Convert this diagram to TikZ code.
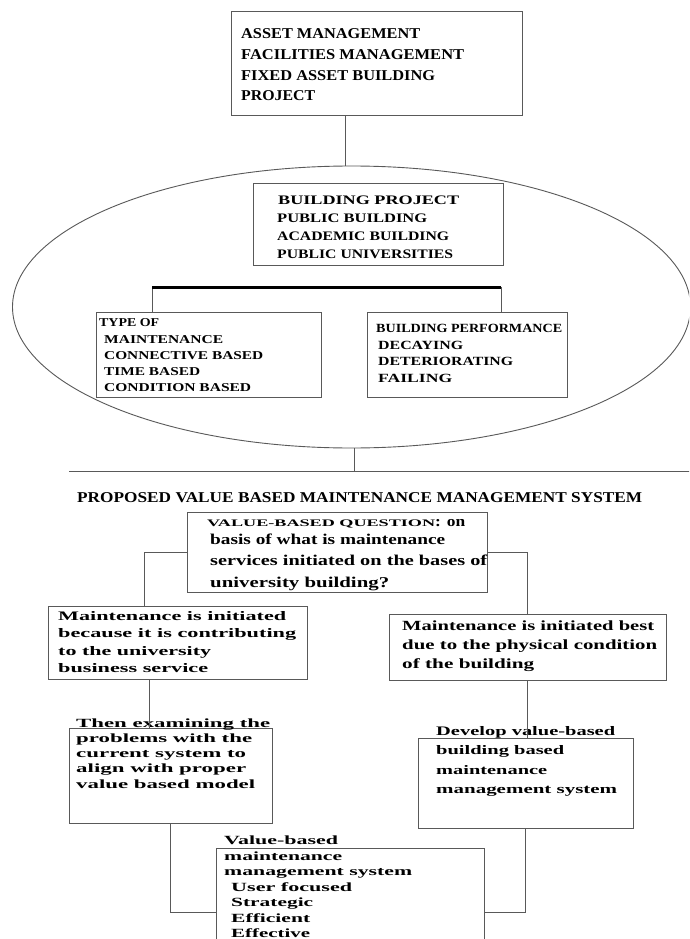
\documentclass[tikz,border=0pt]{standalone}
\usepackage{fontspec}
\setmainfont{Liberation Serif}
\usepackage{graphicx}
\usetikzlibrary{shapes.geometric}
\newcommand{\fw}[2]{\strut\resizebox{#1pt}{\height}{#2}}
\begin{document}
\begin{tikzpicture}[x=1pt,y=-1pt,
  box/.style={draw=black!65, line width=1pt, inner sep=0pt},
  conn/.style={draw=black!65, line width=1pt},
  heavy/.style={draw=black, line width=3pt},
  txt/.style={anchor=north west, inner sep=0pt, align=left, text=black}]
\useasboundingbox (0,0) rectangle (689,939);
\clip (0,0) rectangle (689,939);
\fill[white] (0,0) rectangle (689,939);

% top box
\node[box, minimum width=291pt, minimum height=104pt] (top) at (376.5,64) {};
\node[txt, font=\fontsize{15}{20.8}\selectfont\bfseries] (toptxt) at (241,23.7) {%
\fw{179}{ASSET MANAGEMENT}\\%
\fw{223}{FACILITIES MANAGEMENT}\\%
\fw{194}{FIXED ASSET BUILDING}\\%
\fw{74}{PROJECT}};

% ellipse
\node[draw=black!65, line width=0.9pt, ellipse, minimum width=678pt, minimum height=282pt, inner sep=0pt] (ell) at (351.5,307) {};
\coordinate (c1) at (345,0);
\draw[conn] (top.south -| c1) -- (ell.north -| c1);

% building project box
\node[box, minimum width=250pt, minimum height=82pt] (bp) at (378,224) {};
\node[txt, font=\fontsize{13}{18.1}\selectfont\bfseries] (bptxt) at (277,191.6) {%
\hspace{1pt}\fw{181}{BUILDING PROJECT}\\%
\fw{150}{PUBLIC BUILDING}\\%
\fw{172}{ACADEMIC BUILDING}\\%
\fw{176}{PUBLIC UNIVERSITIES}};

% two inner boxes
\node[box, minimum width=225pt, minimum height=85pt] (typ) at (208.5,354.5) {};
\node[box, minimum width=200pt, minimum height=85pt] (perf) at (467,354.5) {};
\coordinate (tl) at (152,287);
\coordinate (tr) at (501,287);
\draw[conn] (tl) -- (tl |- typ.north);
\draw[conn] (tr) -- (tr |- perf.north);
\draw[heavy] (tl) -- (tr);

\node[txt, font=\fontsize{12}{16.25}\selectfont\bfseries] (typtxt) at (99,315.3) {%
\fw{60}{TYPE OF}\\%
\hspace{5pt}\fw{119}{MAINTENANCE}\\%
\hspace{5pt}\fw{159}{CONNECTIVE BASED}\\%
\hspace{5pt}\fw{96}{TIME BASED}\\%
\hspace{5pt}\fw{147}{CONDITION BASED}};

\node[txt, font=\fontsize{12.5}{16.4}\selectfont\bfseries] (perftxt) at (376,321.2) {%
\fw{186}{BUILDING PERFORMANCE}\\%
\hspace{2pt}\fw{85}{DECAYING}\\%
\hspace{2pt}\fw{135}{DETERIORATING}\\%
\hspace{2pt}\fw{74}{FAILING}};

% connector below ellipse and long line
\coordinate (c2) at (354,471);
\coordinate (hl0) at (69,471);
\coordinate (hl1) at (700,471);
\draw[conn] (c2 |- ell.south) -- (c2);
\draw[conn] (hl0) -- (hl1);

% title
\node[anchor=west, inner sep=0pt, font=\fontsize{15}{18}\selectfont\bfseries] (title) at (77,497.5)
  {\resizebox{565pt}{\height}{PROPOSED VALUE BASED MAINTENANCE MANAGEMENT SYSTEM}};

% question box
\node[box, minimum width=300pt, minimum height=80pt] (q) at (337,552) {};
\node[txt, font=\fontsize{15}{18}\selectfont\bfseries] (qtxt) at (207,513.4) {%
\fw{228}{\fontsize{10}{12}\selectfont VALUE-BASED QUESTION}\fw{30}{: on}\\%
\hspace{3pt}\fw{235}{basis of what is maintenance}\\[3pt]%
\hspace{3pt}\fw{277}{services initiated on the bases of}\\[4pt]%
\hspace{3pt}\fw{179}{university building?}};

% first row of boxes
\node[box, minimum width=259pt, minimum height=73pt] (l1) at (177.5,642.5) {};
\node[txt, font=\fontsize{13}{17.3}\selectfont\bfseries] (l1txt) at (58,608.2) {%
\fw{228}{Maintenance is initiated}\\%
\fw{238}{because it is contributing}\\%
\fw{153}{to the university}\\%
\fw{150}{business service}};

\node[box, minimum width=277pt, minimum height=66pt] (r1) at (527.5,647) {};
\node[txt, font=\fontsize{14}{19}\selectfont\bfseries] (r1txt) at (402,616.7) {%
\fw{252}{Maintenance is initiated best}\\%
\fw{255}{due to the physical condition}\\%
\fw{132}{of the building}};

\coordinate (ql) at (144,552);
\draw[conn] (q.west) -| (ql |- l1.north);
\draw[conn] (q.east) -| (r1.north);

% second row of boxes
\node[box, minimum width=203pt, minimum height=95pt] (l2) at (170.5,775.5) {};
\node[txt, font=\fontsize{12.5}{15.25}\selectfont\bfseries] (l2txt) at (76,716.3) {%
\fw{194}{Then examining the}\\%
\fw{176}{problems with the}\\%
\fw{170}{current system to}\\%
\fw{170}{align with proper}\\%
\fw{179}{value based model}};

\node[box, minimum width=215pt, minimum height=90pt] (r2) at (525.5,783) {};
\node[txt, font=\fontsize{13}{19.3}\selectfont\bfseries] (r2txt) at (436,721.8) {%
\fw{179}{Develop value-based}\\%
\fw{128}{building based}\\%
\fw{111}{maintenance}\\%
\fw{181}{management system}};

\coordinate (lx) at (149,0);
\draw[conn] (l1.south -| lx) -- (l2.north -| lx);
\draw[conn] (r1.south) -- (r1.south |- r2.north);

% bottom box
\node[box, minimum width=268pt, minimum height=128pt] (b) at (350,912) {};
\node[txt, font=\fontsize{12.5}{15.5}\selectfont\bfseries] (btxt) at (224,833.5) {%
\fw{114}{Value-based}\\%
\fw{118}{maintenance}\\%
\fw{188}{management system}\\%
\hspace{7pt}\fw{121}{User focused}\\%
\hspace{7pt}\fw{82}{Strategic}\\%
\hspace{7pt}\fw{79}{Efficient}\\%
\hspace{7pt}\fw{79}{Effective}};

\draw[conn] (l2.south) |- (b.west);
\draw[conn] (r2.south) |- (b.east);
\end{tikzpicture}
\end{document}
